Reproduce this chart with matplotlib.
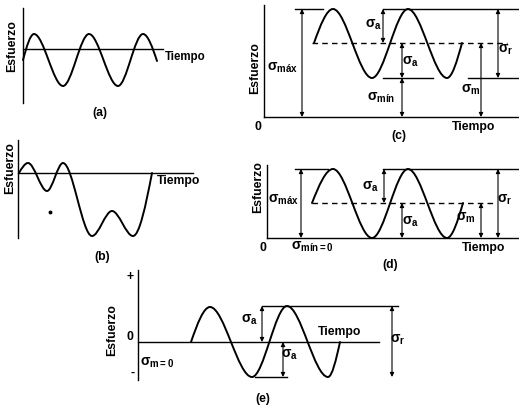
import matplotlib.pyplot as plt
import numpy as np
from matplotlib.path import Path
from matplotlib.patches import PathPatch

# Key points of each stress wave (time, stress)
a_time = [0, 11, 40, 66, 95, 120, 134]
a_stress = [-11, 15, -37, 15, -37, 15, -12]

b_time = [1, 10, 29, 45, 74, 94, 115, 134]
b_stress = [0, 10, -18, 10, -63, -38, -63, 0]
b_dot = (32, -39)

c_time = [50, 69, 108, 144, 183, 198]
c_stress = [74, 108, 39, 108, 39, 74]
c_max, c_mean, c_min = 108, 74, 39

d_time = [45, 66, 105, 141, 180, 196]
d_stress = [35, 69, 0, 69, 0, 35]
d_max, d_mean = 69, 35

e_time = [53, 72, 114, 149, 190, 202]
e_stress = [0, 35, -35, 36, -35, 0]
e_max, e_min = 36, -35

W, H = 519, 405
plt.rcParams['font.family'] = ['Liberation Sans', 'DejaVu Sans']
plt.rcParams['mathtext.fontset'] = 'custom'
plt.rcParams['mathtext.rm'] = 'Liberation Sans'
plt.rcParams['mathtext.it'] = 'Liberation Sans:italic'
plt.rcParams['mathtext.bf'] = 'Liberation Sans:bold'
plt.rcParams['mathtext.default'] = 'bf'

fig = plt.figure(figsize=(W / 100, H / 100), dpi=100)
fig.patch.set_facecolor('white')

LW = 1.0
TXT = dict(fontsize=8.8, fontweight='bold', ha='center', va='center')
SIG = dict(fontsize=10, ha='center', va='center')


def panel(ox, oy):
    # one unit = one pixel, origin at the panel's axis corner
    ax = fig.add_axes([0, 0, 1, 1])
    ax.set_xlim(-ox, W - ox)
    ax.set_ylim(oy - H, oy)
    ax.axis('off')
    ax.patch.set_alpha(0)
    return ax


def wave(ax, t, s):
    n = len(t)
    m = [0.0] * n
    m[0] = (s[1] - s[0]) * np.pi / 2 / (t[1] - t[0])
    m[-1] = (s[-1] - s[-2]) * np.pi / 2 / (t[-1] - t[-2])
    verts = [(t[0], s[0])]
    codes = [Path.MOVETO]
    for i in range(n - 1):
        dx = t[i + 1] - t[i]
        verts += [(t[i] + dx / 3, s[i] + m[i] * dx / 3),
                  (t[i + 1] - dx / 3, s[i + 1] - m[i + 1] * dx / 3),
                  (t[i + 1], s[i + 1])]
        codes += [Path.CURVE4] * 3
    ax.add_patch(PathPatch(Path(verts, codes), fill=False, lw=1.4, ec='k',
                           capstyle='round', joinstyle='round'))


def hline(ax, t0, t1, s, dashed=False):
    ax.plot([t0, t1], [s, s], color='k', lw=LW, ls=(0, (4, 3)) if dashed else '-')


def vline(ax, t, s0, s1):
    ax.plot([t, t], [s0, s1], color='k', lw=LW)


def arrow(ax, t, s0, s1):
    ax.annotate('', xy=(t, s1), xytext=(t, s0),
                arrowprops=dict(arrowstyle='<|-|>', color='k', lw=0.8,
                                mutation_scale=6, shrinkA=0, shrinkB=0))


# (a)
ax = panel(23, 49)
vline(ax, 0, -54, 41)
hline(ax, 0, 140, 0)
wave(ax, a_time, a_stress)
ax.text(142, -8, 'Tiempo', fontsize=8.3, fontweight='bold', ha='left', va='center')
ax.text(-11, 3, 'Esfuerzo', rotation=90, **TXT)
ax.text(77, -64, '(a)', **TXT)

# (b)
ax = panel(18, 173)
vline(ax, 0, -65, 33)
hline(ax, 0, 175, 0)
wave(ax, b_time, b_stress)
ax.plot(*b_dot, 'o', color='k', ms=1.8)
ax.text(161, -8, 'Tiempo', **TXT)
ax.text(-8, 5, 'Esfuerzo', rotation=90, **TXT)
ax.text(84, -84, '(b)', **TXT)

# (c)
ax = panel(264, 117)
vline(ax, 0, 0, 112)
hline(ax, 0, 254, 0)
hline(ax, 31, 59, c_max)
hline(ax, 119, 254, c_max)
hline(ax, 48, 243, c_mean, dashed=True)
hline(ax, 119, 169, c_min)
hline(ax, 204, 254, c_min)
wave(ax, c_time, c_stress)
arrow(ax, 38, 0, c_max)
arrow(ax, 119, c_mean, c_max)
arrow(ax, 138, c_min, c_mean)
arrow(ax, 138, 0, c_min)
arrow(ax, 217, 0, c_mean)
arrow(ax, 234, c_min, c_max)
ax.text(19, 49, r'$σ_{máx}$', **SIG)
ax.text(110, 92, r'$σ_{a}$', **SIG)
ax.text(147, 55, r'$σ_{a}$', **SIG)
ax.text(117, 19, r'$σ_{mín}$', **SIG)
ax.text(207, 27, r'$σ_{m}$', **SIG)
ax.text(242, 67, r'$σ_{r}$', **SIG)
ax.text(-6, -10, '0', **TXT)
ax.text(210, -10, 'Tiempo', **TXT)
ax.text(135, -19, '(c)', **TXT)
ax.text(-9, 49, 'Esfuerzo', rotation=90, **TXT)

# (d)
ax = panel(267, 238)
vline(ax, 0, 0, 73)
hline(ax, 0, 251, 0)
hline(ax, 28, 61, d_max)
hline(ax, 116, 251, d_max)
hline(ax, 45, 226, d_mean, dashed=True)
wave(ax, d_time, d_stress)
arrow(ax, 34, 0, d_max)
arrow(ax, 117, d_mean, d_max)
arrow(ax, 135, 0, d_mean)
arrow(ax, 214, 0, d_mean)
arrow(ax, 231, 0, d_max)
ax.text(17, 38, r'$σ_{máx}$', **SIG)
ax.text(104, 51, r'$σ_{a}$', **SIG)
ax.text(144, 16, r'$σ_{a}$', **SIG)
ax.text(199, 20, r'$σ_{m}$', **SIG)
ax.text(238, 38, r'$σ_{r}$', **SIG)
ax.text(-4, -10, '0', **TXT)
ax.text(45, -9, r'$σ_{mín=0}$', **SIG)
ax.text(217, -10, 'Tiempo', **TXT)
ax.text(123, -27, '(d)', **TXT)
ax.text(-9, 51, 'Esfuerzo', rotation=90, **TXT)

# (e)
ax = panel(138, 342)
vline(ax, 0, -38, 72)
hline(ax, 0, 241, 0)
hline(ax, 124, 260, e_max)
hline(ax, 117, 149, e_min)
wave(ax, e_time, e_stress)
arrow(ax, 124, 0, e_max)
arrow(ax, 145, e_min, 0)
arrow(ax, 254, e_min, e_max)
ax.text(112, 22, r'$σ_{a}$', **SIG)
ax.text(152, -13, r'$σ_{a}$', **SIG)
ax.text(260, 2, r'$σ_{r}$', **SIG)
ax.text(202, 10, 'Tiempo', **TXT)
ax.text(19, -21, r'$σ_{m=0}$', **SIG)
ax.text(-8, 65, '+', **TXT)
ax.text(-8, 5, '0', **TXT)
ax.text(-5, -31, '-', **TXT)
ax.text(-26, 12, 'Esfuerzo', rotation=90, **TXT)
ax.text(125, -57, '(e)', **TXT)

fig.savefig('out.png', dpi=100, facecolor='white')
